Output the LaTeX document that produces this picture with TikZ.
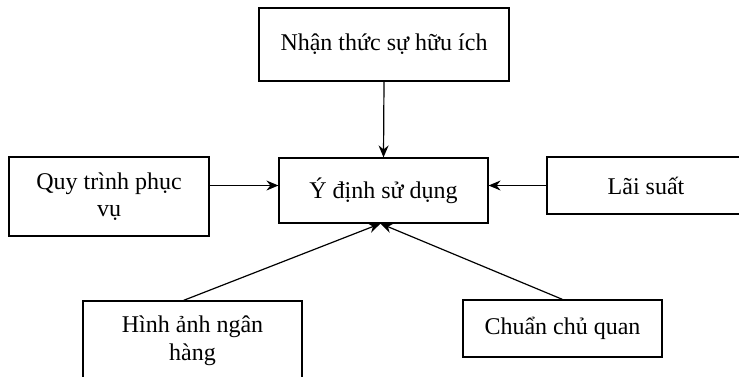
\documentclass[tikz,border=0pt]{standalone}
\usepackage{fontspec}
\setmainfont{Liberation Serif}
\usetikzlibrary{arrows.meta}

\begin{document}
\begin{tikzpicture}[x=1pt,y=-1pt,
    box/.style={draw,line width=1.2pt,align=center,inner sep=0pt,
      font=\fontsize{24}{27.5}\selectfont},
    link/.style={line width=1.2pt,-{Stealth[length=12pt,width=10pt,inset=4pt]}}]
    \useasboundingbox (0,0) rectangle (739,376);
    % boxes
    \node[box,minimum width=250pt,minimum height=73pt] (nhanthuc) at (384,44.5) {Nhận thức sự hữu ích};
    \node[box,minimum width=209pt,minimum height=65pt] (ydinh) at (383.5,190.5) {Ý định sử dụng};
    \node[box,minimum width=200pt,minimum height=79pt] (quytrinh) at (109,196.5) {Quy trình phục\\vụ};
    \node[box,minimum width=198pt,minimum height=57pt] (laisuat) at (646,185.5) {Lãi suất};
    \node[box,minimum width=219pt,minimum height=79pt] (hinhanh) at (192.5,340.5) {Hình ảnh ngân\\hàng};
    \node[box,minimum width=199pt,minimum height=57pt] (chuan) at (562.5,328.5) {Chuẩn chủ quan};
    % arrows
    \draw[link] (nhanthuc.south) -- (ydinh.north);
    \draw[link] (quytrinh.east |- laisuat.west) -- (ydinh.west |- laisuat.west);
    \draw[link] (laisuat.west) -- (laisuat.west -| ydinh.east);
    \draw[link] ([xshift=-9pt]hinhanh.north) -- ([xshift=-3pt]ydinh.south);
    \draw[link] (chuan.north) -- ([xshift=-3pt]ydinh.south);
\end{tikzpicture}
\end{document}
